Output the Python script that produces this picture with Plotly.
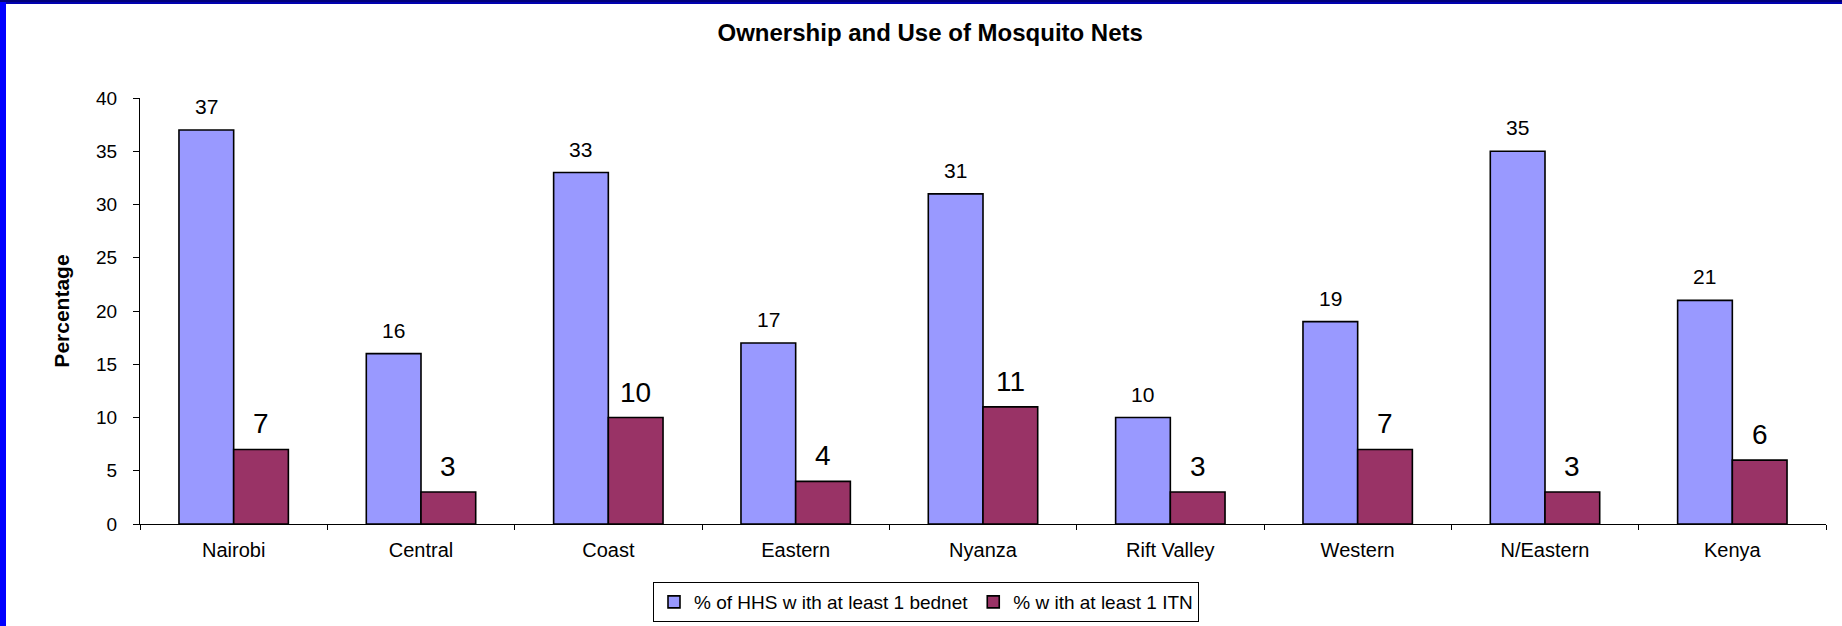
import plotly.graph_objects as go

categories = ["Nairobi", "Central", "Coast", "Eastern", "Nyanza", "Rift Valley", "Western", "N/Eastern", "Kenya"]
bednet = [37, 16, 33, 17, 31, 10, 19, 35, 21]
itn = [7, 3, 10, 4, 11, 3, 7, 3, 6]
series_names = ["% of HHS w ith at least 1 bednet", "% w ith at least 1 ITN"]
y_ticks = [0, 5, 10, 15, 20, 25, 30, 35, 40]

W, H = 1842, 626
L, R, T, B = 140, 16, 98, 102
BARGAP = 0.416
FONT = "Arial, Liberation Sans, sans-serif"
BLUE = "#9999FF"
RED = "#993366"

fig = go.Figure()
fig.add_bar(x=categories, y=bednet, name=series_names[0], marker=dict(color=BLUE, line=dict(color="black", width=1.6)))
fig.add_bar(x=categories, y=itn, name=series_names[1], marker=dict(color=RED, line=dict(color="black", width=1.6)))

off = (1 - BARGAP) / 4
annotations = []
for i, v in enumerate(bednet):
    annotations.append(dict(x=i - off, y=v, xref="x", yref="y", text=str(v), showarrow=False,
                            yanchor="bottom", yshift=10, font=dict(family=FONT, size=21, color="black")))
for i, v in enumerate(itn):
    annotations.append(dict(x=i + off, y=v, xref="x", yref="y", text=str(v), showarrow=False,
                            yanchor="bottom", yshift=8, font=dict(family=FONT, size=28, color="black")))

pw = W - L - R
ph = H - T - B
def px_x(p):
    return (p - L) / pw
def px_y(p):
    return (H - B - p) / ph

shapes = [
    dict(type="rect", xref="paper", yref="paper", x0=px_x(0), x1=px_x(W), y0=px_y(0), y1=px_y(4),
         fillcolor="#0000B0", line=dict(width=0), layer="above"),
    dict(type="rect", xref="paper", yref="paper", x0=px_x(0), x1=px_x(6), y0=px_y(0), y1=px_y(H),
         fillcolor="#0000FF", line=dict(width=0), layer="above"),
    dict(type="rect", xref="paper", yref="paper", x0=px_x(0), x1=px_x(W), y0=px_y(0), y1=px_y(2),
         fillcolor="#00007A", line=dict(width=0), layer="above"),
]

fig.update_layout(
    width=W, height=H,
    margin=dict(l=L, r=R, t=T, b=B, autoexpand=False),
    paper_bgcolor="white", plot_bgcolor="white",
    barmode="group", bargap=BARGAP, bargroupgap=0,
    title=dict(text="<b>Ownership and Use of Mosquito Nets</b>", x=0.505, xanchor="center",
               y=1 - 33 / H, yanchor="middle", font=dict(family=FONT, size=24, color="black")),
    font=dict(family=FONT, color="black"),
    xaxis=dict(showline=True, linecolor="black", linewidth=1, ticks="outside", tickson="boundaries",
               ticklen=5, tickcolor="black", showgrid=False, tickfont=dict(size=20, family=FONT),
               ticklabelstandoff=8, automargin=False),
    yaxis=dict(range=[0, 40], tickvals=y_ticks, showline=True, linecolor="black", linewidth=1,
               ticks="outside", ticklen=6, tickcolor="black", showgrid=False, zeroline=False,
               tickfont=dict(size=19, family=FONT), ticklabelstandoff=12, automargin=False,
               title=dict(text="<b>Percentage</b>", font=dict(size=21, family=FONT), standoff=20)),
    legend=dict(orientation="h", x=px_x(926), xanchor="center", y=px_y(582), yanchor="top",
                bordercolor="black", borderwidth=1, bgcolor="white",
                font=dict(size=19, family=FONT), itemwidth=30, tracegroupgap=0),
    annotations=annotations,
    shapes=shapes,
)

fig.write_html("out.html", config={"displayModeBar": False},
               post_script="document.body.style.margin='0';document.body.style.overflow='hidden';")
